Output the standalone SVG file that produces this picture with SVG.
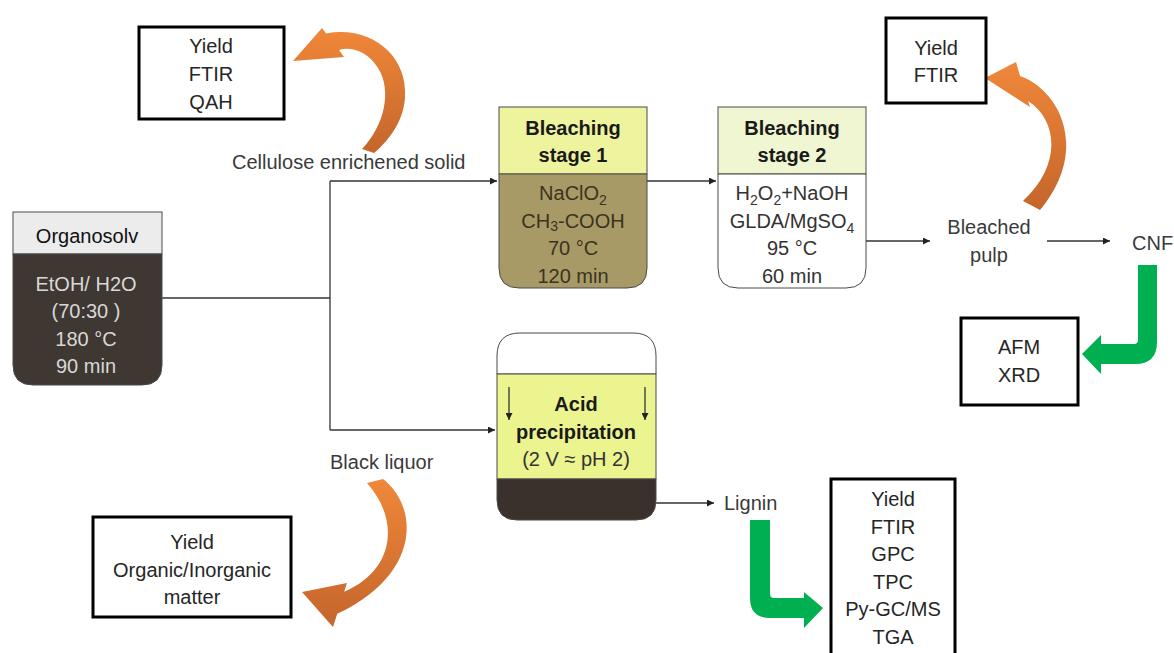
<svg xmlns="http://www.w3.org/2000/svg" width="1174" height="653" viewBox="0 0 1174 653">
<defs>
<style>
.t{font-family:"Liberation Sans",Arial,sans-serif;font-size:20px;fill:#262626;text-anchor:middle}
.l{font-family:"Liberation Sans",Arial,sans-serif;font-size:20px;fill:#3a3a3a}
.b{font-weight:bold}
.box{fill:#fff;stroke:#000;stroke-width:3}
.edge{fill:none;stroke:#333;stroke-width:1.3}
.ves{stroke:#4a4a4a;stroke-width:1}
.og{fill:url(#og)}
.gr{fill:#00b050}
</style>
<marker id="ah" viewBox="0 0 10 10" refX="10" refY="5" markerWidth="7" markerHeight="7" markerUnits="userSpaceOnUse" orient="auto"><path d="M0,0 L10,5 L0,10 Z" fill="#222"/></marker>
<linearGradient id="og" x1="0" y1="0" x2="0" y2="1"><stop offset="0" stop-color="#f0883a"/><stop offset="1" stop-color="#c4652b"/></linearGradient>
</defs>

<g id="connectors">
<path class="edge" d="M162,298 H330"/>
<path class="edge" d="M330,181 V430"/>
<path class="edge" d="M330,181 H497" marker-end="url(#ah)"/>
<path class="edge" d="M330,430 H495" marker-end="url(#ah)"/>
<path class="edge" d="M647,181 H716" marker-end="url(#ah)"/>
<path class="edge" d="M866,241 H930" marker-end="url(#ah)"/>
<path class="edge" d="M1047,241 H1110" marker-end="url(#ah)"/>
<path class="edge" d="M656,503 H714" marker-end="url(#ah)"/>
<path class="og" d="M293,61 L322,28 L326.2,33.4 C370,25 408,55 405,97 C404,118 392,138 374,153 L362,149 C385,125 392,90 378,68 C368,52 352,46 339,50 L344,57 Z"/>
<path class="og" d="M985,78 L1016,62 L1020,76 C1060,90 1090,150 1040,210 L1023,201 C1062,165 1058,120 1028,101 L1030,107 Z"/>
<path class="og" d="M383,479 C420,508 420,575 337.2,613.8 L333,627 L302,592 L347,583 L344.2,591.8 C395,570 400,520 367,483 Z"/>
<path class="gr" d="M1138,265 H1157 V342 Q1157,364 1135,364 H1101 V374 L1082,354 L1101,335 V344 H1134 Q1138,344 1138,340 Z"/>
<path class="gr" d="M750,520 H770 V594 Q770,598 774,598 H804 V592 L823,608 L804,628 V618 H770 Q750,618 750,598 Z"/>
</g>

<g id="organosolv">
<rect class="ves" x="13" y="212" width="149" height="42" fill="#ececec"/>
<path class="ves" d="M13,254 H162 V365 Q162,385 142,385 H33 Q13,385 13,365 Z" fill="#3f3732"/>
<text class="t" x="87" y="243" style="fill:#111">Organosolv</text>
<text class="t" x="86" y="291" style="fill:#d8d8d8">EtOH/ H2O</text>
<text class="t" x="86" y="318" style="fill:#d8d8d8">(70:30 )</text>
<text class="t" x="86" y="346" style="fill:#d8d8d8">180 °C</text>
<text class="t" x="86" y="373" style="fill:#d8d8d8">90 min</text>
</g>

<g id="bleaching1">
<rect class="ves" x="499" y="107" width="148" height="67" fill="#edf49d"/>
<path class="ves" d="M499,174 H647 V268 Q647,288 627,288 H519 Q499,288 499,268 Z" fill="#a89a66"/>
<text class="t b" x="573" y="135" style="fill:#1a1a1a">Bleaching</text>
<text class="t b" x="573" y="162" style="fill:#1a1a1a">stage 1</text>
<text class="t" x="573" y="200" style="fill:#3a3320">NaClO<tspan font-size="14" dy="5">2</tspan></text>
<text class="t" x="573" y="228" style="fill:#3a3320">CH<tspan font-size="14" dy="3">3</tspan><tspan dy="-3">-COOH</tspan></text>
<text class="t" x="573" y="255" style="fill:#3a3320">70 °C</text>
<text class="t" x="573" y="283" style="fill:#3a3320">120 min</text>
</g>

<g id="bleaching2">
<rect class="ves" x="718" y="107" width="148" height="67" fill="#f0f6d2"/>
<path class="ves" d="M718,174 H866 V268 Q866,288 846,288 H738 Q718,288 718,268 Z" fill="#fff"/>
<text class="t b" x="792" y="135" style="fill:#1a1a1a">Bleaching</text>
<text class="t b" x="792" y="162" style="fill:#1a1a1a">stage 2</text>
<text class="t" x="792" y="200" style="fill:#333">H<tspan font-size="14" dy="5">2</tspan><tspan dy="-5">O</tspan><tspan font-size="14" dy="5">2</tspan><tspan dy="-5">+NaOH</tspan></text>
<text class="t" x="792" y="228" style="fill:#333">GLDA/MgSO<tspan font-size="14" dy="5">4</tspan></text>
<text class="t" x="792" y="255" style="fill:#333">95 °C</text>
<text class="t" x="792" y="283" style="fill:#333">60 min</text>
</g>

<g id="acid">
<path class="ves" d="M497,374 V356 Q497,333 520,333 H633 Q656,333 656,356 V374 Z" fill="#fff"/>
<rect class="ves" x="497" y="374" width="159" height="105" fill="#ebf48f"/>
<path class="ves" d="M497,479 H656 V500 Q656,520 636,520 H517 Q497,520 497,500 Z" fill="#3b312c"/>
<path class="edge" d="M509,387 V420" marker-end="url(#ah)"/>
<path class="edge" d="M645,387 V420" marker-end="url(#ah)"/>
<text class="t b" x="576" y="411" style="fill:#1a1a1a">Acid</text>
<text class="t b" x="576" y="439" style="fill:#1a1a1a">precipitation</text>
<text class="t" x="576" y="466" style="fill:#333">(2 V ≈ pH 2)</text>
</g>

<g id="box-cellulose">
<rect class="box" x="139" y="27" width="145" height="92"/>
<text class="t" x="211" y="53">Yield</text>
<text class="t" x="211" y="81">FTIR</text>
<text class="t" x="211" y="109">QAH</text>
</g>

<g id="box-pulp">
<rect class="box" x="886" y="18" width="100" height="85"/>
<text class="t" x="936" y="55">Yield</text>
<text class="t" x="936" y="82">FTIR</text>
</g>

<g id="box-cnf">
<rect class="box" x="961" y="318" width="117" height="87"/>
<text class="t" x="1019" y="354">AFM</text>
<text class="t" x="1019" y="382">XRD</text>
</g>

<g id="box-liquor">
<rect class="box" x="93" y="517" width="198" height="100"/>
<text class="t" x="192" y="549">Yield</text>
<text class="t" x="192" y="577">Organic/Inorganic</text>
<text class="t" x="192" y="604">matter</text>
</g>

<g id="box-lignin">
<rect class="box" x="831" y="479" width="124" height="180"/>
<text class="t" x="893" y="506">Yield</text>
<text class="t" x="893" y="534">FTIR</text>
<text class="t" x="893" y="561">GPC</text>
<text class="t" x="893" y="589">TPC</text>
<text class="t" x="893" y="616">Py-GC/MS</text>
<text class="t" x="893" y="644">TGA</text>
</g>

<g id="labels">
<text class="l" x="232" y="169">Cellulose enrichened solid</text>
<text class="l" x="330" y="469">Black liquor</text>
<text class="l" x="989" y="234" text-anchor="middle">Bleached</text>
<text class="l" x="989" y="262" text-anchor="middle">pulp</text>
<text class="l" x="1132" y="250" font-size="19">CNF</text>
<text class="l" x="724" y="510">Lignin</text>
</g>
</svg>
